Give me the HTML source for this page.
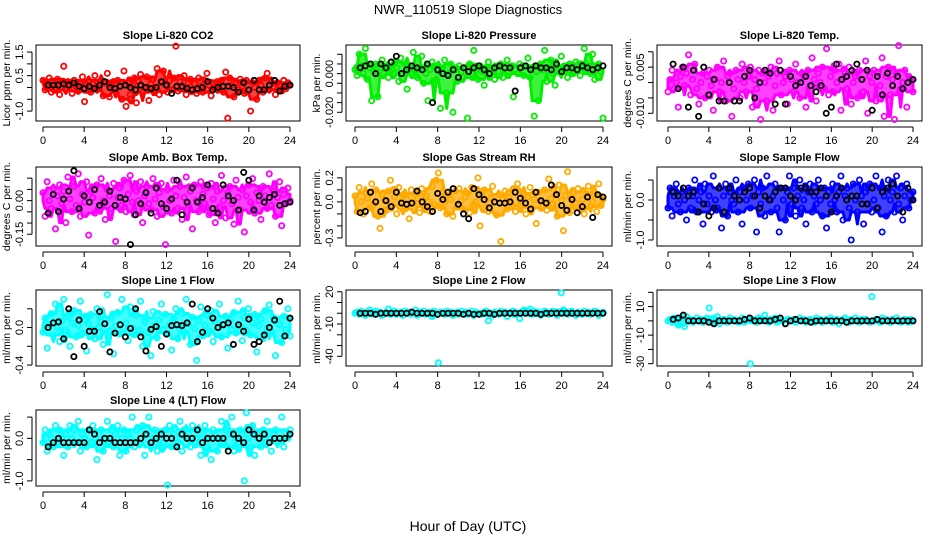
<!DOCTYPE html>
<html><head><meta charset="utf-8"><style>
html,body{margin:0;padding:0;background:#fff}
svg{display:block;font-family:"Liberation Sans",Arial,sans-serif}
</style></head><body>
<svg id="chart" width="936" height="540" viewBox="0 0 936 540" xmlns="http://www.w3.org/2000/svg">
<text x="468" y="14" text-anchor="middle" font-size="13">NWR_110519  Slope Diagnostics</text>
<text x="468" y="531" text-anchor="middle" font-size="14">Hour of Day (UTC)</text>
</svg>
<script>
// values are stored in panel units (see unit comments); hour of day spans 0..24
const xTicks = [0,4,8,12,16,20,24];
// CO2 (ppm/min)
const co2Cloud = [0.3,-0.1,0.2,0.4,-0.2,0.1,0.0,0.35,-0.3,0.2,0.9,-0.1,0.25,0.1,-0.25,0.3,0.05,-0.15,0.2,0.45,
-0.6,0.1,0.3,-0.2,0.15,0.5,-0.1,0.0,0.3,-0.35,0.2,0.6,-0.4,0.1,0.25,-0.2,0.3,0.05,-0.5,0.7,
-0.8,0.2,-0.3,0.1,0.4,-0.65,0.25,0.55,-0.2,0.0,0.45,-0.55,0.15,0.35,-0.1,0.8,-0.3,0.2,0.7,0.1,
-0.2,0.3,-0.1,0.4,1.75,-0.15,0.25,0.0,0.5,-0.3,0.2,0.35,-0.1,0.15,-0.25,0.4,0.05,-0.2,0.3,0.6,
0.1,-0.35,0.2,0.0,0.25,-0.1,0.3,-0.2,0.65,-1.3,0.4,0.1,-0.4,0.2,-0.1,0.35,0.05,-0.25,0.3,-0.1,
-1.0,0.2,0.0,-0.5,0.3,0.1,-0.2,0.4,0.6,-0.1,0.25,0.0,-0.3,0.2,0.1,-0.15,0.3,-0.05,0.2,0.1];
const co2Black = [0.1,0.1,0.1,0.15,0.1,0.2,0.05,-0.05,0.05,-0.05,0.1,0.25,0.0,-0.05,0.05,0.1,0.0,-0.1,0.1,0.0,-0.05,0.0,0.25,0.1,-0.25,0.05,0.05,-0.05,-0.1,-0.05,0.0,0.25,-0.1,0.0,0.05,0.05,0.0,-0.2,0.2,-0.1,0.3,-0.1,-0.1,0.1,0.3,-0.15,0.05,0.1];
// Pressure (x0.001 kPa/min)
const presCloud = [2,-1,10,4,0,13,-3,3,-14,1,5,-12,3,7,0,4,-2,1,2,6,
3,-4,8,0,5,-8,2,4,11,1,-2,3,9,-5,0,-14,2,6,4,-3,
1,-18,3,7,-10,0,5,-20,2,-4,4,1,-2,3,-23,5,0,12,2,-3,
4,1,-6,3,6,0,2,-3,4,1,5,-2,3,7,1,4,-12,2,0,5,
3,-1,4,8,-2,3,-22,1,-14,5,2,12,-4,3,7,0,-6,4,2,9,
1,3,-2,5,0,4,6,2,-1,3,13,2,4,0,10,-3,2,5,1,-23];
const presBlack = [3,4,5,0,5,3,6,9,0,2,4,3,2,5,-15,2,0,-1,2,-2,3,1,3,4,2,0,3,4,3,3,-9,3,4,2,4,3,3,2,5,1,3,3,2,4,3,2,3,4];
// Li-820 temp (x0.001 degC/min)
const tempCloud = [-3,1,4,-2,0,-8,2,5,-1,3,9,-4,1,6,-2,-7,0,3,-5,2,
4,-1,-9,1,5,-3,0,7,-6,2,3,-11,-2,4,1,-5,6,0,-3,2,
5,-8,1,-2,4,-12,3,0,-6,2,5,-9,-1,3,7,-4,0,2,-7,4,
1,-3,6,0,-5,3,2,-8,4,-1,8,1,-6,3,0,5,-2,11,-4,2,
-3,4,0,6,-9,1,3,-2,5,-7,0,2,-5,4,1,-3,7,-10,2,0,
4,-6,3,-1,8,-11,2,5,-4,1,-12,3,12,-2,0,4,-8,2,1,-3];
const tempBlack = [6,-2,5,-8,4,-11,5,-4,1,-6,-6,0,-6,-6,2,4,-5,0,4,3,-7,4,-7,2,-1,0,2,-1,-3,-1,-10,-8,6,1,2,4,6,1,4,-9,2,-4,3,-1,2,-2,0,1];
// Amb box temp (x0.007 degC/min)
const ambCloud = [5,-10,12,0,-5,8,-18,3,10,-2,6,-14,15,1,-7,9,-3,17,-10,4,
-1,12,-22,6,2,-8,10,-4,14,0,-12,7,3,-5,11,-26,2,8,-3,13,
-7,4,16,-1,-9,6,0,12,-14,3,9,-2,-6,14,1,-10,5,11,-4,-28,
7,0,-8,13,3,-5,9,-12,2,15,-3,6,-18,10,0,-7,12,4,-2,8,
-9,11,1,-14,6,-4,16,0,-11,5,9,-2,-15,13,2,-6,7,-20,3,10,
-1,14,-8,5,0,-12,9,3,-5,17,-3,6,-10,2,12,-16,4,-2,8,0];
const ambBlack = [-8,4,-7,1,6,19,-5,3,-1,7,-3,-1,6,-3,2,1,-28,-9,-2,5,-8,8,-2,-5,1,13,-9,-1,8,-1,2,10,-5,-8,10,3,0,-6,18,13,-6,3,-1,2,4,-3,-2,-1];
// Gas stream RH (x0.01 %/min)
const rhCloud = [5,-8,12,0,-10,8,3,-5,15,-2,10,-12,-22,6,1,-7,9,18,-3,4,
-10,12,0,6,-6,2,-14,10,-1,7,3,-9,11,-4,5,0,-8,13,-2,18,
24,-5,8,0,-10,6,2,-12,9,-3,11,1,-6,4,7,-9,12,-2,0,20,
-20,5,10,-4,-8,3,13,0,-11,6,-33,2,9,-6,4,-1,11,-8,15,-3,
0,7,-10,4,12,-5,2,-18,8,0,-4,10,-7,19,3,-2,6,-12,14,1,
-24,5,25,-9,3,8,-1,11,-6,2,-10,7,13,-4,0,6,-8,15,-3,2];
const rhBlack = [-9,-8,8,0,-8,1,-4,8,-1,-2,-1,9,0,-4,-8,7,2,8,11,-2,-10,-14,11,6,2,-5,0,-1,-1,0,8,3,-1,-6,8,1,-1,14,6,-3,-7,2,-9,-4,4,-13,6,4];
// Sample flow (x0.1 ml/min/min)
const sampCloud = [-2,3,-4,1,4,-1,-3,2,0,-5,3,-2,1,5,-3,0,2,-6,4,-1,
1,-3,6,0,-2,3,-7,1,4,-4,2,0,-1,5,-3,2,-6,3,0,4,
-2,1,5,-8,2,-1,3,-4,6,0,-3,1,4,-2,-8,3,0,-5,2,6,
-1,3,-4,1,5,-2,0,-6,2,4,-3,1,-1,5,0,-4,3,-7,2,-1,
4,0,-3,2,6,-5,1,3,-2,-10,4,0,-3,5,1,-6,2,-1,4,-3,
0,6,-2,3,-8,1,-4,5,0,2,-3,6,-1,3,-5,1,4,-2,0,2];
const sampBlack = [2,1,3,1,2,-3,-1,-4,-2,3,-3,3,1,0,2,3,1,-2,1,0,2,3,3,1,0,3,3,2,2,3,1,-3,1,3,0,1,1,-1,-1,3,-2,2,3,4,1,-3,3,0];
// Line 1 flow (x0.01)
const l1Cloud = [-5,10,-22,3,15,-8,25,0,-15,7,30,-3,12,-20,5,18,-10,2,28,-6,
8,-25,4,14,-2,-12,20,0,6,-18,9,35,-4,11,-28,2,16,-7,30,-1,
5,-14,22,0,-8,13,-3,28,-20,6,10,-5,-30,17,2,-11,8,25,-2,14,
-6,3,-24,9,20,-12,0,15,-5,30,4,-18,11,-1,-35,7,22,-9,2,13,
-4,18,-15,6,0,25,-10,3,12,-22,8,-2,16,-6,28,1,-14,10,-3,20,
-8,5,14,-26,2,9,-12,18,0,24,-5,11,-30,7,3,-16,12,-2,20,-9];
const l1Black = [0,5,6,-12,20,-31,8,-20,-4,-4,17,4,-26,-6,3,-10,-1,20,-10,-25,-2,1,-20,-7,2,3,2,5,25,-15,-5,20,10,0,3,5,-18,3,-4,9,-18,-15,-8,0,8,28,-9,10];
// Line 2 flow (ml/min/min)
const l2Cloud = [0,1,-1,2,0,-2,1,3,0,-1,2,0,1,-2,0,1,4,-1,0,2,
-1,0,1,-2,2,0,1,-1,0,3,-2,1,0,2,-1,0,1,-3,2,0,
-46,1,0,-1,2,0,1,-2,0,1,-1,2,0,1,-1,0,2,-2,1,0,
0,-1,1,2,-7,0,-2,1,0,-1,2,0,1,-3,0,1,2,-1,0,-5,
1,3,2,0,4,-1,2,0,1,-2,0,2,1,-1,0,2,1,-2,0,19,
3,0,-1,1,2,0,-2,1,0,-1,2,0,1,-1,0,2,1,-2,0,1];
const l2Black = [0,0,0,-1,0,0,0,0,0,0,1,0,0,0,0,-1,0,0,0,0,-1,0,-1,-1,0,0,-1,0,0,0,0,0,0,0,0,-1,0,0,0,0,0,0,0,0,0,0,0,0];
// Line 3 flow (ml/min/min)
const l3Cloud = [0,1,-1,2,0,-3,1,2,-4,3,0,1,-1,0,2,0,1,-1,0,2,
9,0,-1,1,3,-2,0,1,0,-1,2,0,1,0,-1,0,2,-1,0,1,
-30,0,1,-1,2,0,1,4,0,-1,1,0,2,-1,0,1,0,-2,1,0,
0,1,-1,0,2,0,1,-1,0,1,0,-1,2,0,1,-1,0,1,0,2,
-1,0,1,-2,0,1,2,0,-1,1,0,2,0,-1,1,0,1,0,-1,17,
0,1,0,-1,2,0,1,0,-1,1,0,2,0,-1,0,1,0,-1,1,0];
const l3Black = [1,2,4,0,0,0,0,-1,-2,0,0,0,0,0,1,2,0,0,0,0,1,2,-2,0,1,0,0,-1,0,0,0,0,0,0,-1,0,0,0,0,0,1,0,0,0,0,0,0,0];
// Line 4 flow (x0.1)
const l4Cloud = [-1,2,-3,1,0,-2,3,-1,2,0,-4,1,-2,3,0,2,-1,4,-3,1,
0,-2,2,-1,3,0,-5,1,2,-3,0,4,-1,2,-2,1,3,-4,0,2,
-3,1,0,5,-2,2,-1,0,3,-4,1,5,-2,0,2,-3,1,0,-1,2,
-11,3,-2,1,0,-1,4,-3,2,0,1,-2,3,-1,0,2,-4,1,3,-2,
0,-5,2,1,-3,0,4,-1,2,-2,1,5,-3,0,-1,2,1,-10,6,0,
-2,3,-4,1,0,-2,2,-1,4,0,-3,1,2,-1,0,5,-2,1,0,2];
const l4Black = [-2,-1,0,-1,-1,-1,-1,-1,2,1,-1,0,0,-1,-1,-1,-1,-1,0,1,-1,0,1,0,0,-2,1,0,0,2,-1,0,0,0,0,-3,1,0,-1,2,1,0,1,-1,0,0,0,1];
// tick values and labels (panel units)
const co2Ticks=[-1,-0.5,0,0.5,1,1.5], co2Labels=["-1.0","","","0.5","","1.5"];
const presTicks=[-20,-15,-10,-5,0,5,10], presLabels=["-0.020","","","","0.000","",""];
const tempTicks=[-10,-5,0,5,10], tempLabels=["-0.010","","","0.005",""];
const ambTicks=[-21.43,-14.29,-7.14,0,7.14,14.29], ambLabels=["-0.15","","","0.00","",""];
const rhTicks=[-30,-20,-10,0,10,20], rhLabels=["-0.3","","","0.0","","0.2"];
const sampTicks=[-10,-5,0,5], sampLabels=["-1.0","","0.0",""];
const l1Ticks=[-40,-20,0,20], l1Labels=["-0.4","","0.0",""];
const l2Ticks=[-40,-30,-20,-10,0,10,20], l2Labels=["-40","","","-10","","","20"];
const l3Ticks=[-30,-20,-10,0,10,20], l3Labels=["-30","","-10","","10",""];
const l4Ticks=[-10,-5,0,5], l4Labels=["-1.0","","0.0",""];

const NS="http://www.w3.org/2000/svg";
const svg=document.getElementById('chart');
const cols=[{l:36,r:300,x0:43,x1:290},{l:346,r:612,x0:355,x1:603},{l:657,r:922,x0:668,x1:913}];
const rows=[{t:45,b:121},{t:167,b:246},{t:290,b:366},{t:410,b:486}];
const panels=[
{name:"co2",title:"Slope Li-820 CO2",yl:"Licor ppm per min.",c:0,r:0,ymin:-1.42,ymax:1.8,cloud:co2Cloud,black:co2Black,ticks:co2Ticks,labels:co2Labels,color:"#ff0000"},
{name:"pressure",title:"Slope Li-820 Pressure",yl:"kPa per min.",c:1,r:0,ymin:-24.5,ymax:14.8,cloud:presCloud,black:presBlack,ticks:presTicks,labels:presLabels,color:"#00ee00"},
{name:"li820-temp",title:"Slope Li-820 Temp.",yl:"degrees C per min.",c:2,r:0,ymin:-12.5,ymax:12.2,cloud:tempCloud,black:tempBlack,ticks:tempTicks,labels:tempLabels,color:"#ff00ff"},
{name:"amb-box-temp",title:"Slope Amb. Box Temp.",yl:"degrees C per min.",c:0,r:1,ymin:-28.9,ymax:21.4,cloud:ambCloud,black:ambBlack,ticks:ambTicks,labels:ambLabels,color:"#ff00ff"},
{name:"gas-stream-rh",title:"Slope Gas Stream RH",yl:"percent per min.",c:1,r:1,ymin:-36.7,ymax:29,cloud:rhCloud,black:rhBlack,ticks:rhTicks,labels:rhLabels,color:"#ffaa00"},
{name:"sample-flow",title:"Slope Sample Flow",yl:"ml/min per min.",c:2,r:1,ymin:-11.5,ymax:8.25,cloud:sampCloud,black:sampBlack,ticks:sampTicks,labels:sampLabels,color:"#0000ff"},
{name:"line1-flow",title:"Slope Line 1 Flow",yl:"ml/min per min.",c:0,r:2,ymin:-41,ymax:40,cloud:l1Cloud,black:l1Black,ticks:l1Ticks,labels:l1Labels,color:"#00ffff"},
{name:"line2-flow",title:"Slope Line 2 Flow",yl:"ml/min per min.",c:1,r:2,ymin:-49,ymax:21.6,cloud:l2Cloud,black:l2Black,ticks:l2Ticks,labels:l2Labels,color:"#00ffff"},
{name:"line3-flow",title:"Slope Line 3 Flow",yl:"ml/min per min.",c:2,r:2,ymin:-31.6,ymax:21.6,cloud:l3Cloud,black:l3Black,ticks:l3Ticks,labels:l3Labels,color:"#00ffff"},
{name:"line4-flow",title:"Slope Line 4 (LT) Flow",yl:"ml/min per min.",c:0,r:3,ymin:-11.2,ymax:6.67,cloud:l4Cloud,black:l4Black,ticks:l4Ticks,labels:l4Labels,color:"#00ffff"}
];
function mk(tag,attrs,parent){const e=document.createElementNS(NS,tag);for(const k in attrs)e.setAttribute(k,attrs[k]);(parent||svg).appendChild(e);return e;}
panels.forEach(p=>{
  const C=cols[p.c],R=rows[p.r];
  const g=mk('g',{});
  
  
  const xs=h=>C.x0+(C.x1-C.x0)*h/24;
  const ys=v=>R.b-(R.b-R.t)*(v-p.ymin)/(p.ymax-p.ymin);
  const t=mk('text',{x:(C.l+C.r)/2,y:R.t-6,'text-anchor':'middle','font-size':11,'font-weight':'bold'},g);
  t.textContent=p.title;
  
  
  const box=mk('rect',{x:C.l,y:R.t,width:C.r-C.l,height:R.b-R.t,fill:'none',stroke:'#000','stroke-width':1},g);
  
  
  const xa=mk('g',{},g);
  
  
  mk('line',{x1:xs(0),x2:xs(24),y1:R.b+6,y2:R.b+6,stroke:'#000'},xa);
  xTicks.forEach(h=>{
    mk('line',{x1:xs(h),x2:xs(h),y1:R.b+6,y2:R.b+11,stroke:'#000'},xa);
    const tl=mk('text',{x:xs(h),y:R.b+23,'text-anchor':'middle','font-size':11},xa);
    tl.textContent=h;
    
    
  });
  const ya=mk('g',{},g);
  
  
  const tmin=Math.min(...p.ticks),tmax=Math.max(...p.ticks);
  mk('line',{x1:C.l-4,x2:C.l-4,y1:ys(tmin),y2:ys(tmax),stroke:'#000'},ya);
  p.ticks.forEach((v,i)=>{
    const yy=ys(v);
    mk('line',{x1:C.l-9,x2:C.l-4,y1:yy,y2:yy,stroke:'#000'},ya);
    if(p.labels[i]){
      const tl=mk('text',{x:0,y:0,'text-anchor':'middle','font-size':11,transform:`translate(${C.l-13},${yy}) rotate(-90)`},ya);
      tl.textContent=p.labels[i];
      
      
    }
  });
  const yt=mk('text',{x:0,y:0,'text-anchor':'middle','font-size':10.5,transform:`translate(${C.l-26},${(R.t+R.b)/2}) rotate(-90)`},g);
  yt.textContent=p.yl;
  
  
  // dense envelope derived from the cloud values (2nd min / 2nd max in a moving window)
  const n=p.cloud.length;
  const top=[],bot=[];
  for(let i=0;i<n;i++){
    const w=p.cloud.slice(Math.max(0,i-3),Math.min(n,i+4)).slice().sort((a,b)=>a-b);
    const lo=w[Math.min(1,w.length-1)],hi=w[Math.max(0,w.length-2)];
    const x=xs(i*24/(n-1));
    top.push(x+','+ys(hi));
    bot.unshift(x+','+ys(lo));
  }
  const env=mk('polygon',{points:top.concat(bot).join(' '),fill:p.color,'fill-opacity':0.75,stroke:p.color,'stroke-width':3,'stroke-linejoin':'round'},g);
  
  
  const cg=mk('g',{fill:'none',stroke:p.color,'stroke-width':1.8},g);
  
  
  p.cloud.forEach((v,i)=>{
    const pt=mk('circle',{cx:xs(i*24/(n-1)),cy:ys(v),r:2.6},cg);
    
    
  });
  const bg=mk('g',{fill:'none',stroke:'#000','stroke-width':1.8},g);
  
  
  p.black.forEach((v,i)=>{
    const pt=mk('circle',{cx:xs(0.5+i*0.5),cy:ys(v),r:2.6},bg);
    
    
  });
});
</script>
</body></html>
